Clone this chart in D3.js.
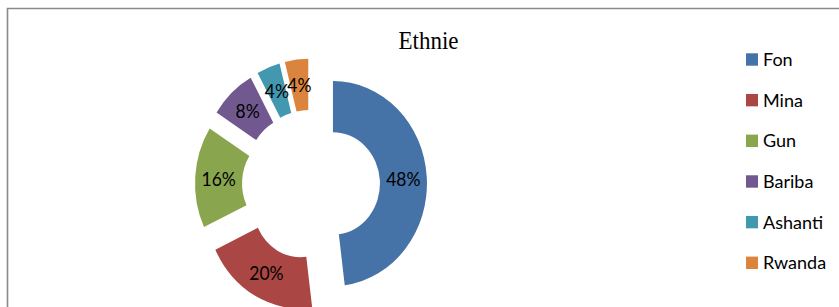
<!DOCTYPE html>
<html>
<head>
<meta charset="utf-8">
<script src="https://cdn.jsdelivr.net/npm/d3@7"></script>
<style>
  html, body { margin: 0; padding: 0; background: #fff; }
  svg { display: block; }
</style>
</head>
<body>
<svg id="chart" width="839" height="307"></svg>
<script>
const categories = ["Fon", "Mina", "Gun", "Bariba", "Ashanti", "Rwanda"];
const values = [48, 20, 16, 8, 4, 4];
const labels = ["48%", "20%", "16%", "8%", "4%", "4%"];
const colors = ["#4572A7", "#AA4643", "#89A54E", "#71588F", "#4198AF", "#DB843D"];
const title = "Ethnie";

const svg = d3.select("#chart");
svg.append("rect").attr("width", 839).attr("height", 307).attr("fill", "#fff");

// border (right/bottom sides fall outside the frame)
svg.append("path")
  .attr("d", "M7.5,307 V8.5 H839")
  .attr("fill", "none")
  .attr("stroke", "#8a8a8a")
  .attr("stroke-width", 1.6);

// title
svg.append("text")
  .attr("x", 428.5).attr("y", 49)
  .attr("text-anchor", "middle")
  .attr("font-family", "'Liberation Serif', 'Times New Roman', serif")
  .attr("font-size", 23)
  .attr("fill", "#000")
  .attr("transform", "translate(0,49) scale(1,1.06) translate(0,-49)")
  .text(title);

// donut
const cx = 311, cy = 185, kY = 1.09;
const outerR = 94, innerR = 47, explode = 22;
const pie = d3.pie().sort(null).value(d => d)(values);
const arc = d3.arc().innerRadius(innerR).outerRadius(outerR);

const g = svg.append("g").attr("transform", `translate(${cx},${cy}) scale(1,${kY})`);
const slices = g.selectAll("g.slice").data(pie).enter().append("g")
  .attr("class", "slice")
  .attr("transform", d => {
    const a = (d.startAngle + d.endAngle) / 2;
    return `translate(${explode * Math.sin(a)},${-explode * Math.cos(a)})`;
  });
slices.append("path")
  .attr("d", arc)
  .attr("fill", (d, i) => colors[i]);
slices.append("text")
  .attr("transform", d => { const c = arc.centroid(d); return `translate(${c[0]},${c[1]})`; })
  .attr("text-anchor", "middle")
  .attr("dy", "0.36em")
  .attr("font-family", "Lato, 'Open Sans', sans-serif")
  .attr("font-size", 17.5)
  .attr("fill", "#000")
  .text((d, i) => labels[i]);

// legend
const legendY = d3.scalePoint().domain(categories).range([59.5, 262.8]);
const lg = svg.append("g");
categories.forEach((c, i) => {
  const y = legendY(c);
  lg.append("rect")
    .attr("x", 746).attr("y", y - 6.2)
    .attr("width", 12).attr("height", 12.4)
    .attr("fill", colors[i]);
  lg.append("text")
    .attr("x", 763).attr("y", y + 6.5)
    .attr("font-family", "Lato, 'Open Sans', sans-serif")
    .attr("font-size", 18)
    .attr("fill", "#000")
    .text(c);
});
</script>
</body>
</html>
